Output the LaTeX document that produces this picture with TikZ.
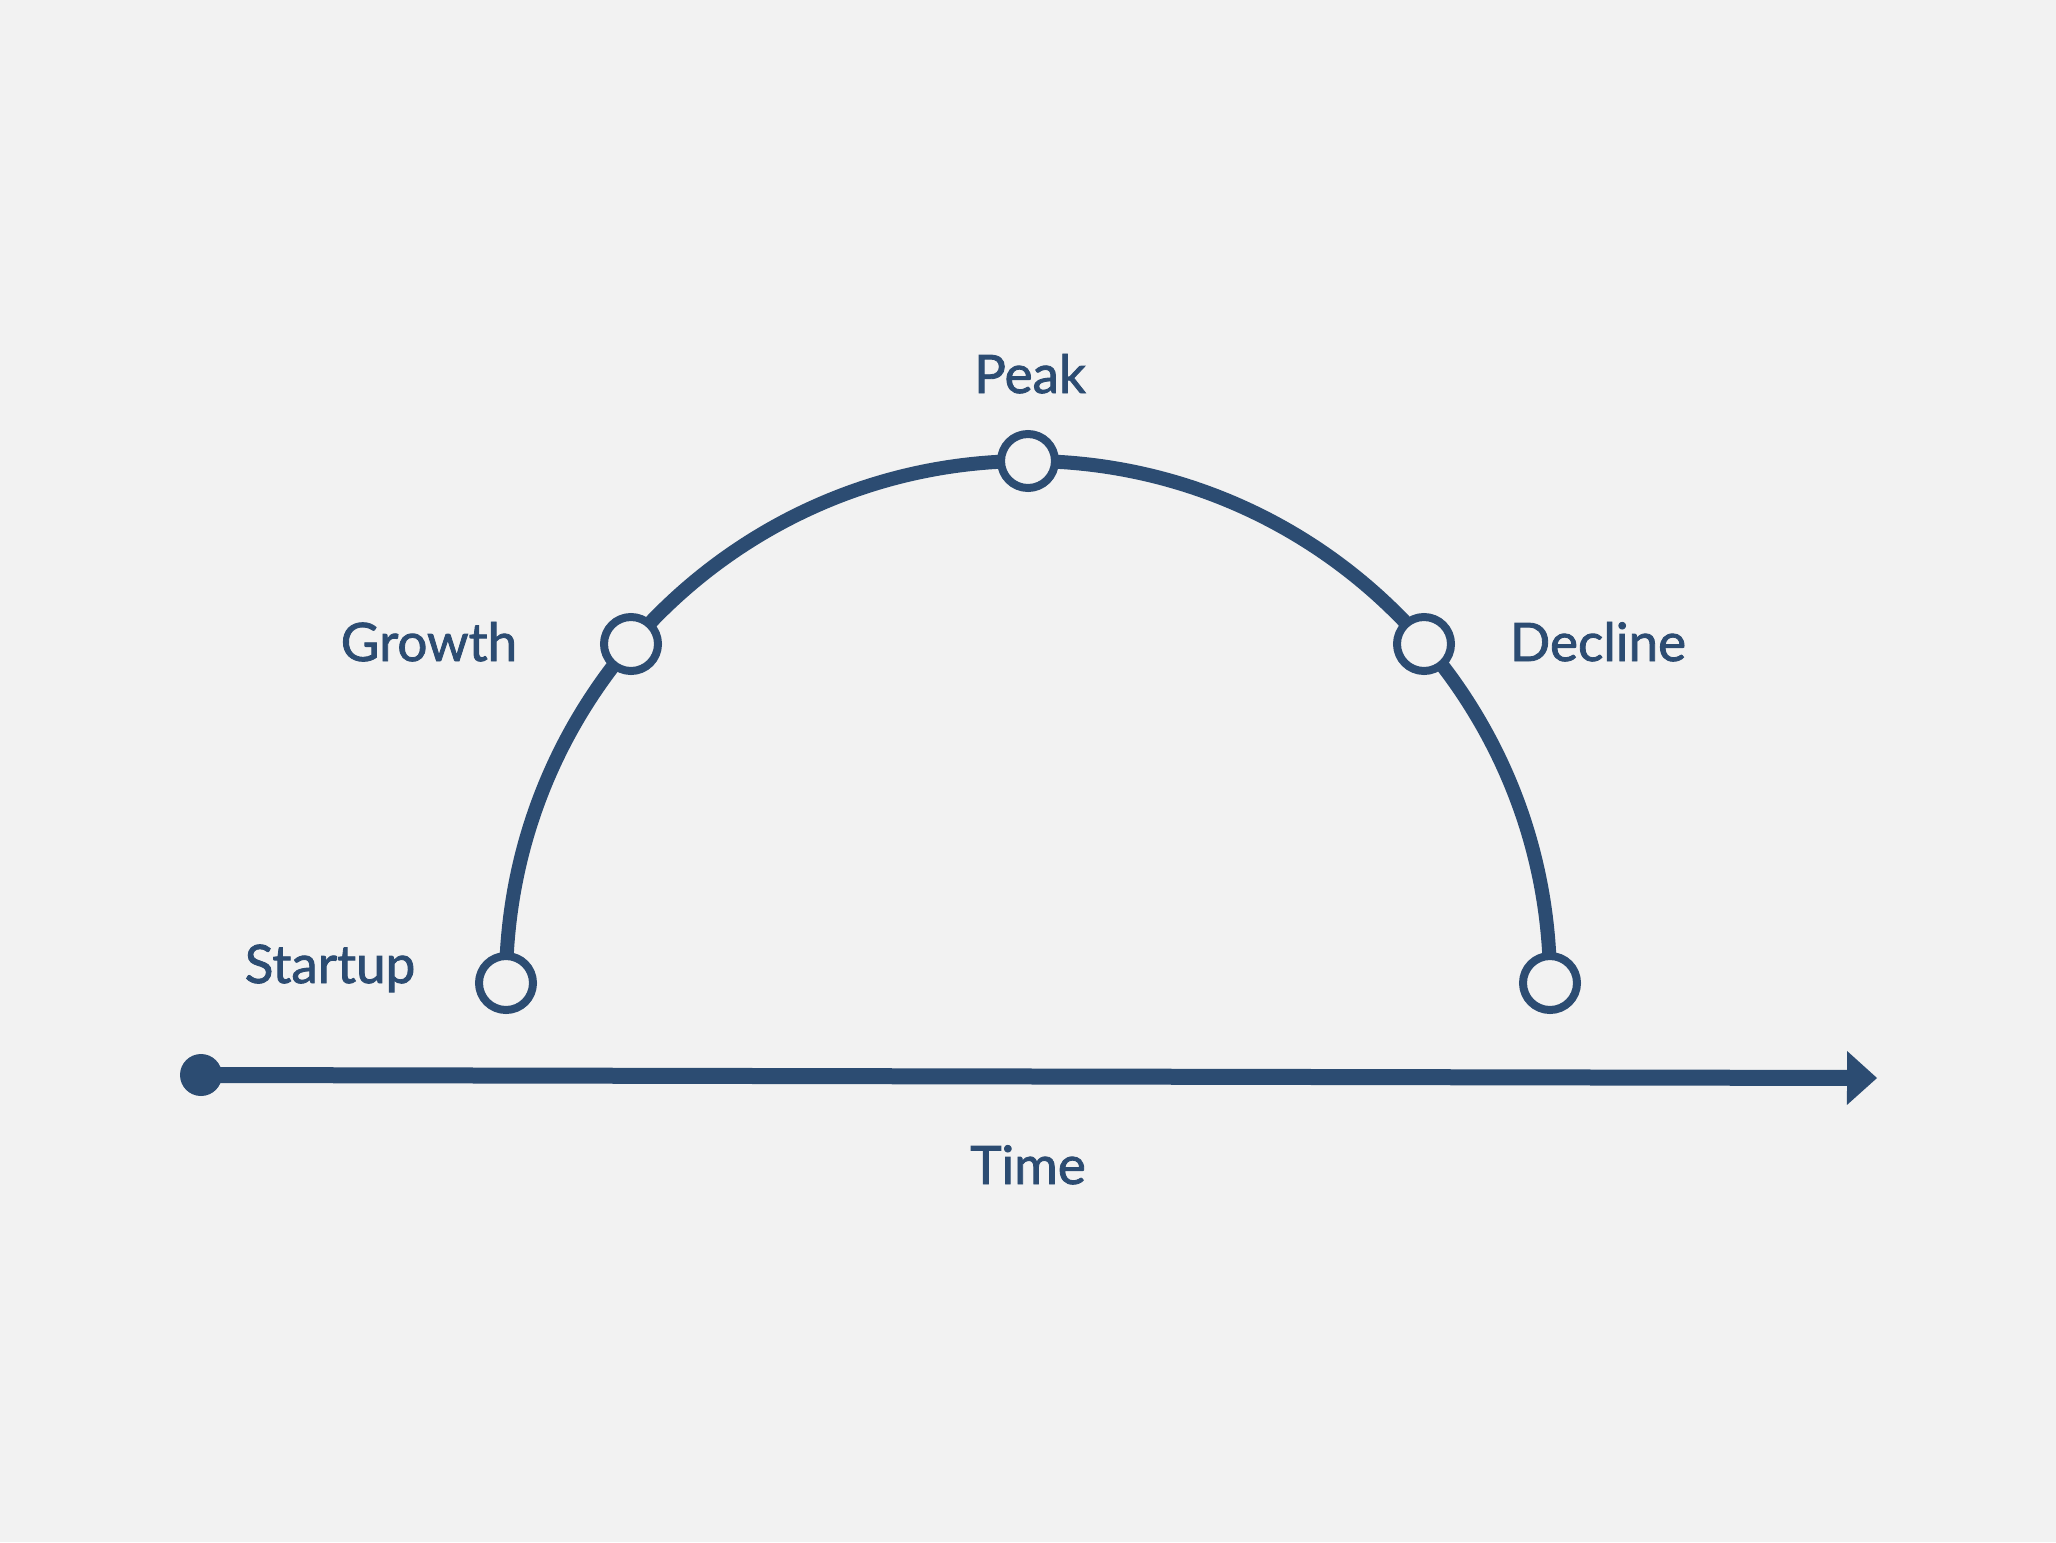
\documentclass[tikz,border=0pt]{standalone}
\usepackage{fontspec}
\setmainfont{Lato}
\newfontfamily\lblfont{Lato}[FakeBold=1.6]
\usetikzlibrary{arrows.meta}
\definecolor{bg}{HTML}{F2F2F2}
\definecolor{ink}{HTML}{2C4C72}
\tikzset{
  stage/.style={circle,draw=ink,fill=bg,line width=4pt,minimum size=27pt,inner sep=0pt},
  lbl/.style={text=ink,font=\lblfont\fontsize{26.5}{30}\selectfont,anchor=base,inner sep=0pt},
  curve/.style={draw=ink,line width=7pt},
  axisline/.style={draw=ink,line width=8pt,-{Triangle[length=15pt,width=27pt,line width=0pt]}},
  dot/.style={circle,fill=ink,minimum size=21pt,inner sep=0pt}
}
\begin{document}
\begin{tikzpicture}[x=0.5pt,y=-0.5pt]
\fill[bg] (0,0) rectangle (2056,1542);
\useasboundingbox (0,0) rectangle (2056,1542);
% positions
\coordinate (ps) at (506,983);
% curve
\draw[curve] (ps) arc[start angle=180,end angle=0,radius=261pt];
% stages
\node[stage] (s) at (506,983) {};
\node[stage] (g) at (631,644) {};
\node[stage] (p) at (1028,461) {};
\node[stage] (dcl) at (1424,644) {};
\node[stage] (f) at (1550,983) {};
% axis
\node[dot] (d) at (201,1075) {};
\coordinate (e) at (1877,1078);
\draw[axisline] (d.center) -- (e);
% labels
\node[lbl] (lp) at (1030,393) {Peak};
\node[lbl] (lg) at (429,661) {Growth};
\node[lbl] (ld) at (1598,661) {Decline};
\node[lbl] (ls) at (330,983) {Startup};
\node[lbl] (lt) at (1028,1184) {Time};
\end{tikzpicture}
\end{document}
